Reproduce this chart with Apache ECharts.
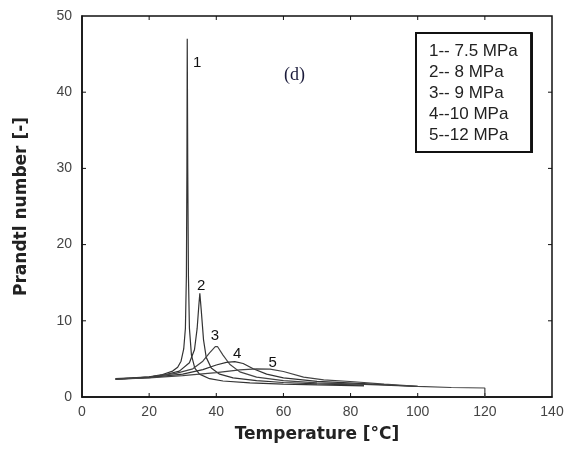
<!DOCTYPE html>
<html><head><meta charset="utf-8">
<script src="https://cdn.jsdelivr.net/npm/echarts@6/dist/echarts.min.js"></script>
<style>html,body{margin:0;padding:0;background:#fff}#c{width:572px;height:458px}</style>
</head><body><div id="c"></div>
<script>
const seriesNames = ['1-- 7.5 MPa','2-- 8 MPa','3-- 9 MPa','4--10 MPa','5--12 MPa'];
const s1 = [[10,2.4],[15,2.5],[20,2.65],[24,2.95],[27,3.4],[28.5,3.9],[29.5,4.7],[30.3,6.3],[30.8,9],[31.1,16],[31.25,30],[31.35,47],[31.5,30],[31.7,16],[32.0,9],[32.6,5.5],[33.6,3.8],[35,3.0],[38,2.4],[42,2.1],[50,1.85],[60,1.7],[70,1.58],[84,1.45]];
const s2 = [[10,2.35],[20,2.6],[25,2.95],[29,3.4],[32,4.5],[33.5,6.2],[34.3,9],[34.8,12],[35.1,13.6],[35.5,11.5],[36.2,7.5],[37,5.2],[38.5,3.8],[41,3.0],[45,2.5],[52,2.15],[60,1.9],[70,1.72],[84,1.55]];
const s3 = [[10,2.35],[20,2.6],[28,3.1],[33,3.7],[36,4.7],[38,5.8],[39.7,6.6],[40.4,6.6],[42,5.5],[44,4.3],[47,3.3],[52,2.6],[60,2.15],[70,1.85],[84,1.65],[100,1.4]];
const s4 = [[10,2.35],[20,2.55],[30,3.0],[36,3.6],[40,4.2],[43,4.55],[45.5,4.65],[48,4.4],[51,3.7],[55,3.0],[60,2.5],[70,2.05],[84,1.75],[100,1.38]];
const s5 = [[10,2.35],[20,2.5],[30,2.8],[40,3.2],[47,3.55],[52,3.7],[56,3.65],[60,3.35],[66,2.6],[72,2.25],[81,2.0],[90,1.7],[100,1.4],[110,1.25],[120,1.18],[120,0]];
const peakLabels = [['1',[34.3,43.8]],['2',[35.5,14.6]],['3',[39.6,8.0]],['4',[46.2,5.6]],['5',[56.8,4.5]]];
const xTicks = [0,20,40,60,80,100,120,140];
const yTicks = [0,10,20,30,40,50];

const allData = [s1,s2,s3,s4,s5];
const colors = ['#333','#333','#444','#333','#444'];
const chart = echarts.init(document.getElementById('c'));
const tickLabel = {color:'#444', fontSize:14, fontFamily:'Liberation Sans'};
const series = allData.map((d,i)=>({
  name: seriesNames[i], type:'line', data:d, showSymbol:false, symbol:'none',
  lineStyle:{color:colors[i], width:1.2}, itemStyle:{color:colors[i]},
  markPoint:{symbol:'circle', symbolSize:0, silent:true,
    label:{show:true, position:'inside', formatter:peakLabels[i][0], color:'#111', fontSize:15, fontFamily:'Liberation Sans'},
    data:[{coord:peakLabels[i][1]}]}
}));
const tickStyle = {stroke:'#111', lineWidth:1};
series.push({type:'custom', name:'xticks', silent:true, data:xTicks.slice(1,-1).map(v=>[v,0]),
  encode:{x:0,y:1},
  renderItem:(p,api)=>{const v=api.value(0); const a=api.coord([v,0]); const b=api.coord([v,50]);
    return {type:'group', children:[
      {type:'line', shape:{x1:a[0],y1:a[1],x2:a[0],y2:a[1]-4}, style:tickStyle},
      {type:'line', shape:{x1:b[0],y1:b[1],x2:b[0],y2:b[1]+4}, style:tickStyle}]};}});
series.push({type:'custom', name:'yticks', silent:true, data:yTicks.slice(1,-1).map(v=>[0,v]),
  encode:{x:0,y:1},
  renderItem:(p,api)=>{const v=api.value(1); const a=api.coord([0,v]); const b=api.coord([140,v]);
    return {type:'group', children:[
      {type:'line', shape:{x1:a[0],y1:a[1],x2:a[0]+4,y2:a[1]}, style:tickStyle},
      {type:'line', shape:{x1:b[0],y1:b[1],x2:b[0]-4,y2:b[1]}, style:tickStyle}]};}});
chart.setOption({
  animation:false,
  grid:{left:82, right:20, top:16, bottom:61, show:true, borderColor:'#111', borderWidth:1.5, backgroundColor:'transparent'},
  legend:{orient:'vertical', left:416, top:33, icon:'none', itemWidth:0, itemGap:0, itemHeight:21,
    padding:[8,14,6,8], borderColor:'#111', borderWidth:2,
    textStyle:{color:'#222', fontSize:17, lineHeight:21, fontFamily:'Liberation Sans'},
    data:seriesNames, selectedMode:false},
  xAxis:{type:'value', min:0, max:140, interval:20, position:'bottom',
    name:'Temperature [°C]', nameLocation:'middle', nameGap:29,
    nameTextStyle:{fontSize:17, fontWeight:'bold', color:'#222', fontFamily:'DejaVu Sans'},
    axisLine:{show:true, lineStyle:{color:'#111', width:1.5}}, axisTick:{show:false},
    axisLabel:Object.assign({margin:8}, tickLabel), splitLine:{show:false}},
  yAxis:{type:'value', min:0, max:50, interval:10, position:'left',
    name:'Prandtl number [-]', nameLocation:'middle', nameGap:52,
    nameTextStyle:{fontSize:17, fontWeight:'bold', color:'#222', fontFamily:'DejaVu Sans'},
    axisLine:{show:true, lineStyle:{color:'#111', width:1.5}}, axisTick:{show:false},
    axisLabel:Object.assign({margin:10}, tickLabel), splitLine:{show:false}},
  graphic:[{type:'text', left:284, top:66, style:{text:'(d)', fontSize:18, fontFamily:'Liberation Serif', fill:'#1a1a3a'}},
    {type:'rect', left:530, top:33, shape:{width:3, height:120}, style:{fill:'#222'}}],
  series: series
});
</script></body></html>
